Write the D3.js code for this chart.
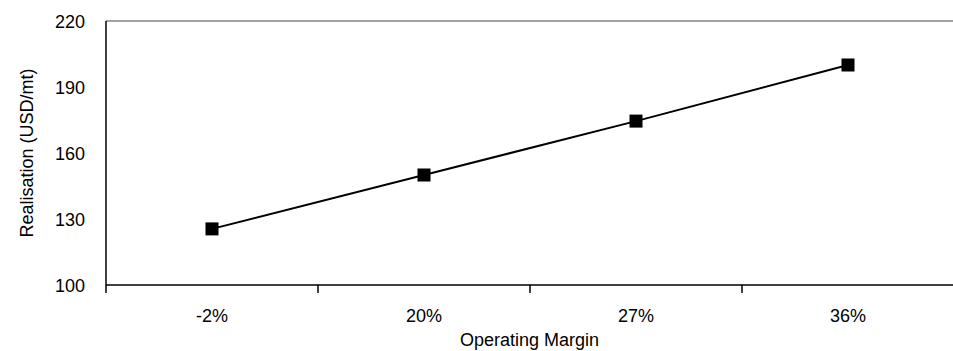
<!DOCTYPE html>
<html><head><meta charset="utf-8">
<script src="https://cdn.jsdelivr.net/npm/d3@7"></script>
<style>
html,body{margin:0;padding:0;background:#fff;}
svg{display:block;}
text{font-family:"Liberation Sans",Arial,sans-serif;fill:#000;}
</style></head>
<body>
<script>
const categories = ["-2%", "20%", "27%", "36%"];
const values = [125.5, 150, 174.5, 200];
const yTicks = [100, 130, 160, 190, 220];
const xTitle = "Operating Margin";
const yTitle = "Realisation (USD/mt)";

const W = 953, H = 351;
const m = {left:106, top:21, right:-1, bottom:66};
const svg = d3.select("body").append("svg").attr("width", W).attr("height", H);

const x = d3.scaleBand().domain(categories).range([m.left, W - m.right]);
const y = d3.scaleLinear().domain([100, 220]).range([H - m.bottom, m.top]);

// top border
svg.append("line").attr("x1", m.left).attr("x2", W).attr("y1", y(220)).attr("y2", y(220))
  .attr("stroke", "#444").attr("stroke-width", 1);

// y axis
const ya = svg.append("g").attr("transform", `translate(${m.left},0)`)
  .call(d3.axisLeft(y).tickValues(yTicks).tickSize(0).tickPadding(21));
ya.select(".domain").attr("stroke", "#000").attr("stroke-width", 1.5)
  .attr("d", `M0,${y(220)}V${y(100) + 8}`);
ya.selectAll("text").style("font-size", "18px").attr("dy", "0.36em");

// x axis
const xa = svg.append("g").attr("transform", `translate(0,${y(100)})`)
  .call(d3.axisBottom(x).tickSize(0).tickPadding(24));
xa.select(".domain").attr("stroke", "#000").attr("stroke-width", 1.5)
  .attr("d", `M${m.left},0H${W}`);
xa.selectAll("text").style("font-size", "18px").attr("dy", "0.71em");
// boundary ticks between categories
xa.selectAll(".bt").data(categories.slice(1)).enter().append("line")
  .attr("x1", d => x(d)).attr("x2", d => x(d)).attr("y1", 0).attr("y2", 8)
  .attr("stroke", "#000").attr("stroke-width", 1.5);

// line
const cx = d => x(d) + x.bandwidth() / 2;
svg.append("path").datum(categories)
  .attr("fill", "none").attr("stroke", "#000").attr("stroke-width", 2)
  .attr("d", d3.line().x(d => cx(d)).y((d, i) => y(values[i])));

const s = 13;
svg.selectAll(".pt").data(categories).enter().append("rect")
  .attr("x", d => cx(d) - s / 2).attr("y", (d, i) => y(values[i]) - s / 2)
  .attr("width", s).attr("height", s).attr("fill", "#000");

// titles
svg.append("text").attr("x", (m.left + W) / 2).attr("y", 346).attr("text-anchor", "middle")
  .style("font-size", "18px").text(xTitle);
svg.append("text").attr("transform", `translate(33,${(y(100) + y(220)) / 2}) rotate(-90)`)
  .attr("text-anchor", "middle").style("font-size", "18px").text(yTitle);
</script>
</body></html>
